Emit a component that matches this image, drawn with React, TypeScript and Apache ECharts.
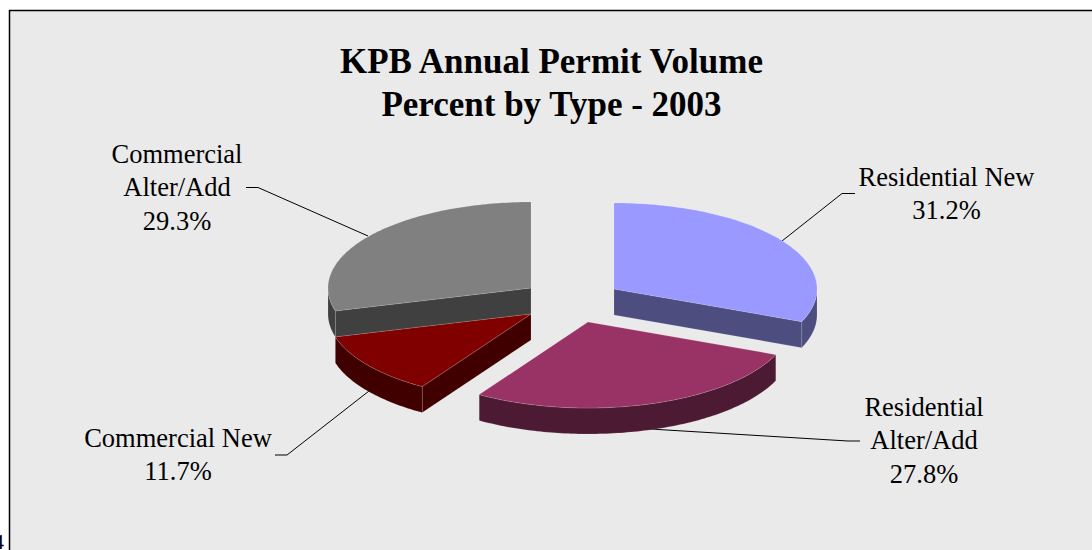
import React, { useEffect, useRef } from "react";
import * as echarts from "echarts";

const categories = ["Residential New", "Residential\nAlter/Add", "Commercial New", "Commercial\nAlter/Add"];
const percents = [31.2, 27.8, 11.7, 29.3];
const titleText = "KPB Annual Permit Volume\nPercent by Type - 2003";

const topColors = ["#9999FF", "#993366", "#800000", "#808080"];
const sideColors = ["#4D4D80", "#4D1A33", "#400000", "#404040"];
const apexes = [[614, 289], [588, 322], [531, 314], [531, 288]];
const labelCenters = [[946.5, 193.5], [924, 440], [178, 454.5], [177, 187]];
const leaders = [
  [[855, 193.5], [842, 193.5], [782, 241]],
  [[650, 429], [848, 441], [860, 441]],
  [[275, 455], [287, 455], [369, 391]],
  [[246, 187.5], [258, 187.5], [368, 236]],
];
const RX = 203;
const RY = 86;
const DEPTH = 26;
const FONT = '"Liberation Serif", "Times New Roman", serif';

const total = percents.reduce((a, b) => a + b, 0);
const starts: number[] = [];
percents.reduce((acc, v, i) => {
  starts[i] = acc;
  return acc + (v / total) * 360;
}, 0);

function rimPoint(apex: number[], deg: number, dy = 0) {
  const r = (deg * Math.PI) / 180;
  return [apex[0] + RX * Math.sin(r), apex[1] - RY * Math.cos(r) + dy];
}
function rim(apex: number[], from: number, to: number, dy = 0) {
  const n = Math.max(2, Math.ceil(Math.abs(to - from)));
  const pts: number[][] = [];
  for (let i = 0; i <= n; i++) pts.push(rimPoint(apex, from + ((to - from) * i) / n, dy));
  return pts;
}

function renderSlice(_params: any, api: any) {
  const i = api.value(0);
  const apex = apexes[i];
  const s = starts[i];
  const e = s + (api.value(1) / total) * 360;
  const children: any[] = [];
  const edge = "rgba(255,255,255,0.22)";
  const poly = (points: number[][], fill: string) => ({
    type: "polygon",
    shape: { points },
    style: { fill, stroke: edge, lineWidth: 0.6 },
  });
  // leader line sits under the slice
  children.push({
    type: "polyline",
    shape: { points: leaders[i] },
    style: { fill: "none", stroke: "#000", lineWidth: 1 },
  });
  // side faces
  const faceAt = (deg: number) => {
    const p = rimPoint(apex, deg);
    return poly([apex, p, [p[0], p[1] + DEPTH], [apex[0], apex[1] + DEPTH]], sideColors[i]);
  };
  if (s > 180 && s < 360) children.push(faceAt(s));
  if (e > 0 && e < 180) children.push(faceAt(e));
  const a = Math.max(s, 90);
  const b = Math.min(e, 270);
  if (b > a) {
    children.push(poly([...rim(apex, a, b), ...rim(apex, b, a, DEPTH)], sideColors[i]));
  }
  children.push(poly([apex, ...rim(apex, s, e)], topColors[i]));
  const c = labelCenters[i];
  children.push({
    type: "text",
    x: c[0],
    y: c[1],
    style: {
      text: `${categories[i]}\n${api.value(1).toFixed(1)}%`,
      font: `26.5px ${FONT}`,
      fill: "#000",
      align: "center",
      verticalAlign: "middle",
      lineHeight: 33.5,
    },
  });
  return { type: "group", children };
}

export default function App() {
  const ref = useRef<HTMLDivElement>(null);
  useEffect(() => {
    if (!ref.current) return;
    const chart = echarts.init(ref.current, undefined, { renderer: "svg" });
    // paint back slices first so the nearer ones overlap them
    const drawOrder = [3, 2, 1, 0];
    chart.setOption({
      animation: false,
      backgroundColor: "#FFFFFF",
      title: {
        text: titleText,
        left: 551.5,
        top: 40,
        textAlign: "center",
        padding: 0,
        textStyle: {
          fontFamily: FONT,
          fontWeight: "bold",
          fontSize: 35,
          lineHeight: 43,
          color: "#000",
        },
      },
      graphic: [
        {
          type: "rect",
          z: -1,
          shape: { x: 9.5, y: 10.5, width: 1200, height: 700 },
          style: { fill: "#EAEAEA", stroke: "#000", lineWidth: 1.5 },
        },
        {
          type: "text",
          z: -1,
          x: 4,
          y: 552,
          style: { text: "4", font: `22px ${FONT}`, fill: "#000", align: "right", verticalAlign: "bottom" },
        },
      ],
      series: [
        {
          type: "custom",
          coordinateSystem: "none",
          silent: true,
          clip: false,
          renderItem: renderSlice,
          data: drawOrder.map((i) => [i, percents[i]]),
        },
      ],
    });
    return () => chart.dispose();
  }, []);
  return (
    <div
      ref={ref}
      style={{ position: "fixed", left: 0, top: 0, width: 1092, height: 550 }}
    />
  );
}
